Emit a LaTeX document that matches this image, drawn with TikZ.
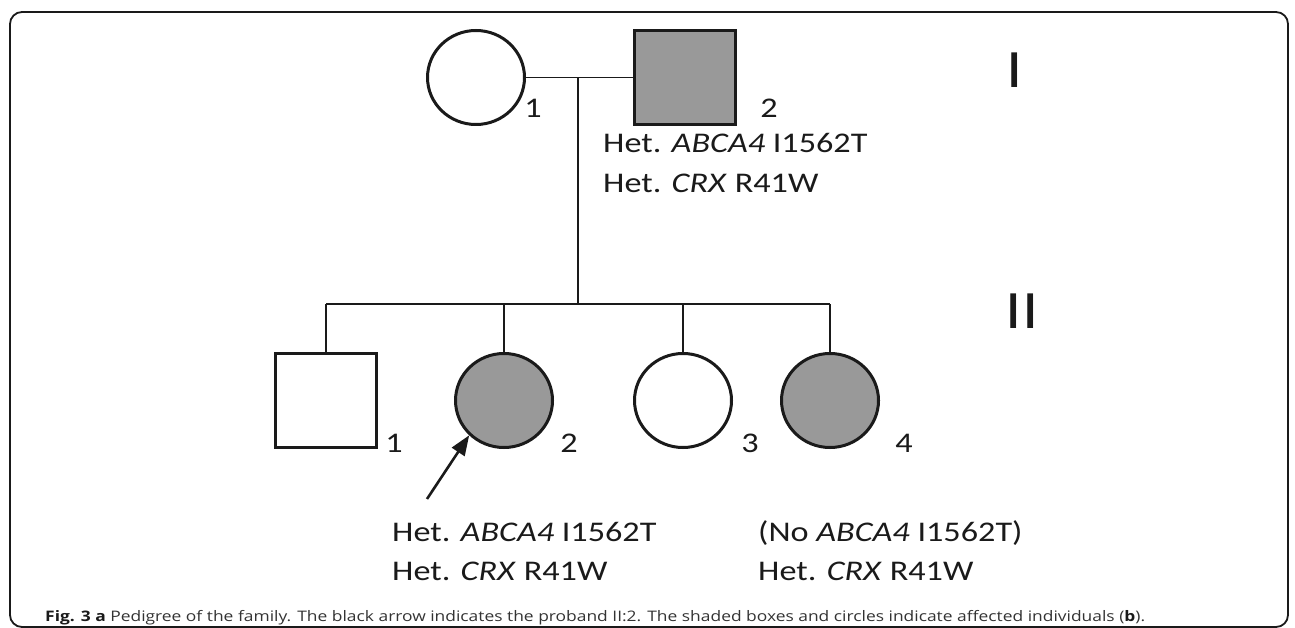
\documentclass[tikz,border=0pt]{standalone}
\usepackage{fontspec}
\setmainfont{Carlito}[FakeStretch=1.2]
\newfontfamily\capfont{Open Sans}[FakeStretch=1.2]
\usetikzlibrary{shapes.geometric,arrows.meta,positioning}
\definecolor{shade}{HTML}{999999}
\definecolor{ink}{HTML}{1A1A1A}

\begin{document}
\begin{tikzpicture}[
  x=1pt, y=-1pt,
  font=\fontsize{28.5}{40}\selectfont,
  >={Triangle[length=20pt, width=15pt]},
  female/.style={ellipse, draw=ink, line width=3pt, minimum width=97pt,
                 minimum height=94pt, inner sep=0pt},
  male/.style={rectangle, draw=ink, line width=3pt, minimum width=101pt,
               minimum height=94pt, inner sep=0pt},
  affected/.style={fill=shade},
  num/.style={inner sep=0pt, text=ink},
  gene/.style={anchor=base west, inner sep=0pt, text=ink},
  gen/.style={inner sep=0pt, text=ink, font=\fontsize{54}{60}\selectfont},
  link/.style={draw=ink, line width=1.3pt},
  proband/.style={->, draw=ink, line width=2.6pt},
  frame/.style={draw=ink, line width=1.8pt, rounded corners=12pt},
]
\useasboundingbox (0,0) rectangle (1295,628);
\draw[frame] (10,12) rectangle (1288,627);

% generation I
\node[female]          (i1) at (476,77.5) {};
\node[male, affected]  (i2) at (685,77.5) {};
\node[num] (n-i1) at (533,108) {1};
\node[num] (n-i2) at (769,108) {2};
\node[gen] (g-i)  at (1015,70) {I};

% generation II
\node[male]              (ii1) at (326,400.5) {};
\node[female, affected]  (ii2) at (504,400.5) {};
\node[female]            (ii3) at (683,400.5) {};
\node[female, affected]  (ii4) at (830,400.5) {};
\node[num] (n-ii1) at (394,443) {1};
\node[num] (n-ii2) at (569,443) {2};
\node[num] (n-ii3) at (750,443) {3};
\node[num] (n-ii4) at (904,443) {4};
\node[gen] (g-ii) at (1022,311.5) {II};

% genotypes
\node[gene] (geno-i2a)  at (603,153) {Het. \textit{ABCA4} I1562T};
\node[gene] (geno-i2b)  at (603,193) {Het. \textit{CRX} R41W};
\node[gene] (geno-ii2a) at (392,541) {Het. \textit{ABCA4} I1562T};
\node[gene] (geno-ii2b) at (392,580) {Het. \textit{CRX} R41W};
\node[gene] (geno-ii4a) at (758,541) {(No \textit{ABCA4} I1562T)};
\node[gene] (geno-ii4b) at (758,580) {Het. \textit{CRX} R41W};

% lines of descent
\coordinate (mate) at (578,78);
\coordinate (sib)  at (578,304);
\coordinate (sibl) at (326,304);
\coordinate (sibr) at (830,304);
\draw[link] (i1.east) -- (i2.west);
\draw[link] (mate) -- (sib);
\draw[link] (sibl) -- (sibr);
\draw[link] (sibl) -- (ii1.north);
\draw[link] (ii2.north |- sib) -- (ii2.north);
\draw[link] (ii3.north |- sib) -- (ii3.north);
\draw[link] (sibr) -- (ii4.north);

% proband arrow
\coordinate (tail) at (427,499);
\draw[proband] (tail) -- (ii2.225);

% caption
\node[anchor=base west, inner sep=0pt, text=black!80,
      font=\capfont\fontsize{14.5}{16}\selectfont] (cap) at (45,621.7)
  {\textcolor{ink}{\textbf{Fig. 3 a}} Pedigree of the family. The black arrow indicates the proband II:2. The shaded boxes and circles indicate affected individuals (\textcolor{ink}{\textbf{b}}).};
\end{tikzpicture}
\end{document}
